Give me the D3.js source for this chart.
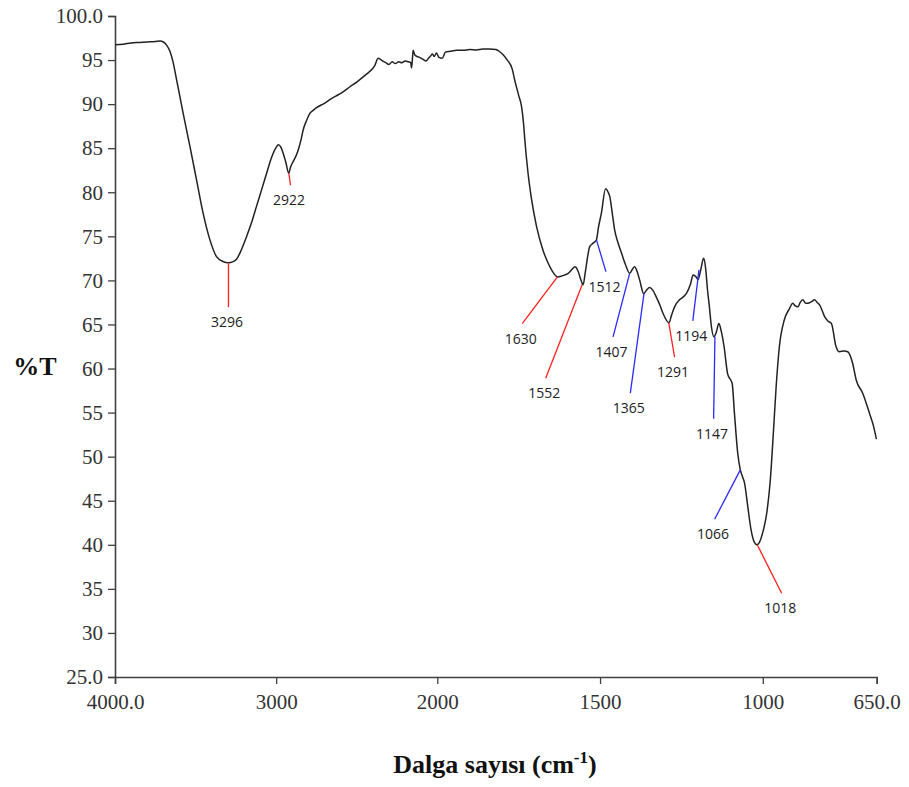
<!DOCTYPE html>
<html>
<head>
<meta charset="utf-8">
<script src="https://cdn.jsdelivr.net/npm/d3@7"></script>
<style>
  html, body { margin: 0; padding: 0; background: #fff; }
  svg { display: block; }
</style>
</head>
<body>
<svg id="chart" width="909" height="787"></svg>
<script>
// ---- Data ----
const wavenumbers = [
  4000,3950,3900,3850,3800,3750,3720,3700,3680,3659,3640,3617,3577,3535,3494,3453,3411,3370,3330,3296,
  3270,3246,3215,3184,3150,3122,3090,3060,3035,3019,3000,2987,2970,2956,2940,2922,2910,2894,2875,2863,
  2845,2832,2810,2791,2770,2749,2720,2690,2667,2630,2585,2540,2500,2460,2420,2390,2367,2355,2340,2320,
  2300,2280,2260,2240,2220,2200,2180,2165,2160,2155,2150,2140,2125,2110,2090,2070,2055,2040,2030,2020,
  2005,1995,1985,1975,1960,1940,1920,1900,1880,1860,1840,1820,1810,1795,1785,1770,1762,1750,1741,1735,
  1731,1721,1710,1695,1675,1660,1649,1630,1610,1598,1585,1577,1568,1560,1552,1545,1532,1522,1511,1505,
  1496,1483,1475,1470,1462,1455,1445,1434,1422,1409,1400,1394,1386,1378,1366,1357,1348,1338,1327,1315,
  1307,1288,1280,1271,1256,1245,1235,1222,1214,1205,1199,1190,1182,1176,1170,1164,1158,1150,1143,1135,
  1128,1119,1108,1094,1087,1077,1069,1062,1056,1046,1036,1026,1018,1010,1004,996,988,977,967,959,
  949,934,918,908,900,892,885,877,868,861,850,841,833,825,810,800,789,775,765,750,
  739,724,713,693,672,660,651
];
const transmittance = [
  96.75,96.8,96.95,97.0,97.05,97.1,97.15,97.05,96.7,96.0,94.8,92.7,88.96,85.2,81.4,77.6,74.6,72.7,72.15,72.0,
  72.1,72.4,73.5,74.95,76.7,78.4,80.3,82.1,83.6,84.4,85.1,85.4,85.1,84.4,83.4,82.15,82.9,83.5,84.2,84.8,
  86.0,87.1,88.2,88.96,89.3,89.6,89.9,90.2,90.5,90.9,91.4,92.0,92.5,93.1,93.7,94.3,95.2,95.1,94.9,94.7,
  94.5,94.8,94.6,94.8,94.7,94.9,94.8,94.7,94.1,95.0,96.1,95.6,95.4,95.3,95.1,94.9,95.2,95.5,95.7,95.4,
  95.8,95.3,95.2,95.9,96.0,96.1,96.1,96.2,96.15,96.25,96.25,96.2,96.0,95.5,95.0,94.0,92.7,91.0,89.7,87.8,
  85.9,82.1,79.1,76.1,73.4,72.0,71.2,70.4,70.6,70.8,71.3,71.55,71.1,70.2,69.5,71.0,73.8,74.2,74.6,76.0,
  77.6,80.4,80.0,79.5,77.5,75.7,74.3,73.1,71.8,70.8,71.3,71.55,71.0,70.0,68.5,68.9,69.2,68.9,68.1,67.1,
  66.3,65.2,66.1,67.0,67.8,68.1,68.5,69.6,70.6,70.4,70.1,71.3,72.5,71.5,69.0,67.0,64.8,63.6,64.1,65.1,
  64.3,62.5,59.4,58.3,54.9,50.4,48.5,47.7,47.0,44.3,41.7,40.3,40.0,40.3,40.9,42.0,43.55,47.3,53.0,57.9,
  62.5,65.5,66.8,67.4,67.1,67.0,67.5,67.8,67.4,67.4,67.6,67.8,67.5,67.2,65.9,65.4,65.1,62.5,61.9,62.0,
  61.9,60.6,58.7,57.2,54.9,53.5,52.0
];

// Peak annotations: label, peak (wn, T), leader-line end (wn, T), colour group
const peakLabels   = ["3296","2922","1630","1552","1512","1407","1365","1291","1194","1147","1066","1018"];
const peakWn       = [3296, 2921, 1631, 1555, 1511, 1409, 1365, 1289, 1196, 1147, 1069, 1017];
const peakT        = [72.0, 82.15, 70.4, 69.5, 74.6, 70.8, 68.5, 65.2, 71.2, 63.6, 48.5, 40.0];
const labelWn      = [3296, 2911, 1739, 1667, 1482, 1460, 1407, 1271, 1215, 1151, 1148, 942];
const labelT       = [66.97, 80.8, 65.1, 58.9, 71.0, 63.6, 57.2, 61.3, 65.4, 54.3, 42.9, 34.5];
const peakGroup    = ["r","r","r","r","b","b","b","r","b","b","b","r"];

const xTicks = [4000, 3000, 2000, 1500, 1000, 650];
const xTickLabels = ["4000.0","3000","2000","1500","1000","650.0"];
const yTicks = [25,30,35,40,45,50,55,60,65,70,75,80,85,90,95,100];
const yTickLabels = ["25.0","30","35","40","45","50","55","60","65","70","75","80","85","90","95","100.0"];

// ---- Layout ----
const svg = d3.select("#chart");
const padL = 115, padR = 876.7, padT = 16, padB = 677;
const breakX = 437.3;

// FTIR style: scale changes at 2000 cm-1
const x = d3.scaleLinear().domain([4000, 2000, 650]).range([padL, breakX, padR]);
const y = d3.scaleLinear().domain([25, 100]).range([padB, padT]);

const axisColor = "#404040";
const serif = "'Liberation Serif', 'Times New Roman', serif";

// Y axis
const yAxis = d3.axisLeft(y)
  .tickValues(yTicks)
  .tickFormat(d => yTickLabels[yTicks.indexOf(d)])
  .tickSize(7).tickPadding(5);
const gy = svg.append("g").attr("transform", `translate(${padL},0)`).call(yAxis);
gy.select(".domain").attr("stroke", axisColor).attr("stroke-width", 1.6);
gy.selectAll(".tick line").attr("stroke", axisColor).attr("stroke-width", 1.3);
gy.selectAll(".tick text")
  .attr("fill", "#333")
  .style("font-family", serif)
  .style("font-size", "21px");

// X axis
const xAxis = d3.axisBottom(x)
  .tickValues(xTicks)
  .tickFormat(d => xTickLabels[xTicks.indexOf(d)])
  .tickSize(7).tickPadding(10);
const gx = svg.append("g").attr("transform", `translate(0,${padB})`).call(xAxis);
gx.select(".domain").attr("stroke", axisColor).attr("stroke-width", 1.6);
gx.selectAll(".tick line").attr("stroke", axisColor).attr("stroke-width", 1.3);
gx.selectAll(".tick text")
  .attr("fill", "#333")
  .style("font-family", serif)
  .style("font-size", "21px");

// Axis titles
svg.append("text")
  .attr("x", 35).attr("y", 366)
  .attr("text-anchor", "middle").attr("dominant-baseline", "central")
  .style("font-family", serif)
  .style("font-size", "26px").style("font-weight", "bold")
  .attr("fill", "#111")
  .text("%T");

const xt = svg.append("text")
  .attr("x", 495).attr("y", 773)
  .attr("text-anchor", "middle")
  .style("font-family", serif)
  .style("font-size", "26px").style("font-weight", "bold")
  .attr("fill", "#111");
xt.append("tspan").text("Dalga sayısı (cm");
xt.append("tspan").attr("dy", -10).style("font-size", "17px").text("-1");
xt.append("tspan").attr("dy", 10).text(")");

// Spectrum line
const pts = wavenumbers.map((w, i) => [w, transmittance[i]]);
const line = d3.line()
  .x(d => x(d[0]))
  .y(d => y(d[1]))
  .curve(d3.curveMonotoneX);
svg.append("path")
  .datum(pts)
  .attr("d", line)
  .attr("fill", "none")
  .attr("stroke", "#222")
  .attr("stroke-width", 1.5)
  .attr("stroke-linejoin", "round");

// Annotations
const colors = { r: "#ff2020", b: "#2a2aff" };
const ann = peakLabels.map((t, i) => ({
  t, w: peakWn[i], v: peakT[i], lw: labelWn[i], lv: labelT[i], c: colors[peakGroup[i]]
}));
const ga = svg.append("g");
ga.selectAll("line").data(ann).enter().append("line")
  .attr("x1", d => x(d.w)).attr("y1", d => y(d.v))
  .attr("x2", d => x(d.lw)).attr("y2", d => y(d.lv))
  .attr("stroke", d => d.c).attr("stroke-width", 1.3);
ga.selectAll("text").data(ann).enter().append("text")
  .attr("x", d => x(d.lw) - 1.5).attr("y", d => y(d.lv) + 14.5)
  .attr("text-anchor", "middle").attr("dominant-baseline", "central")
  .style("font-family", "'Open Sans', 'DejaVu Sans', sans-serif")
  .style("font-size", "14px")
  .attr("fill", "#222")
  .text(d => d.t);
</script>
</body>
</html>
